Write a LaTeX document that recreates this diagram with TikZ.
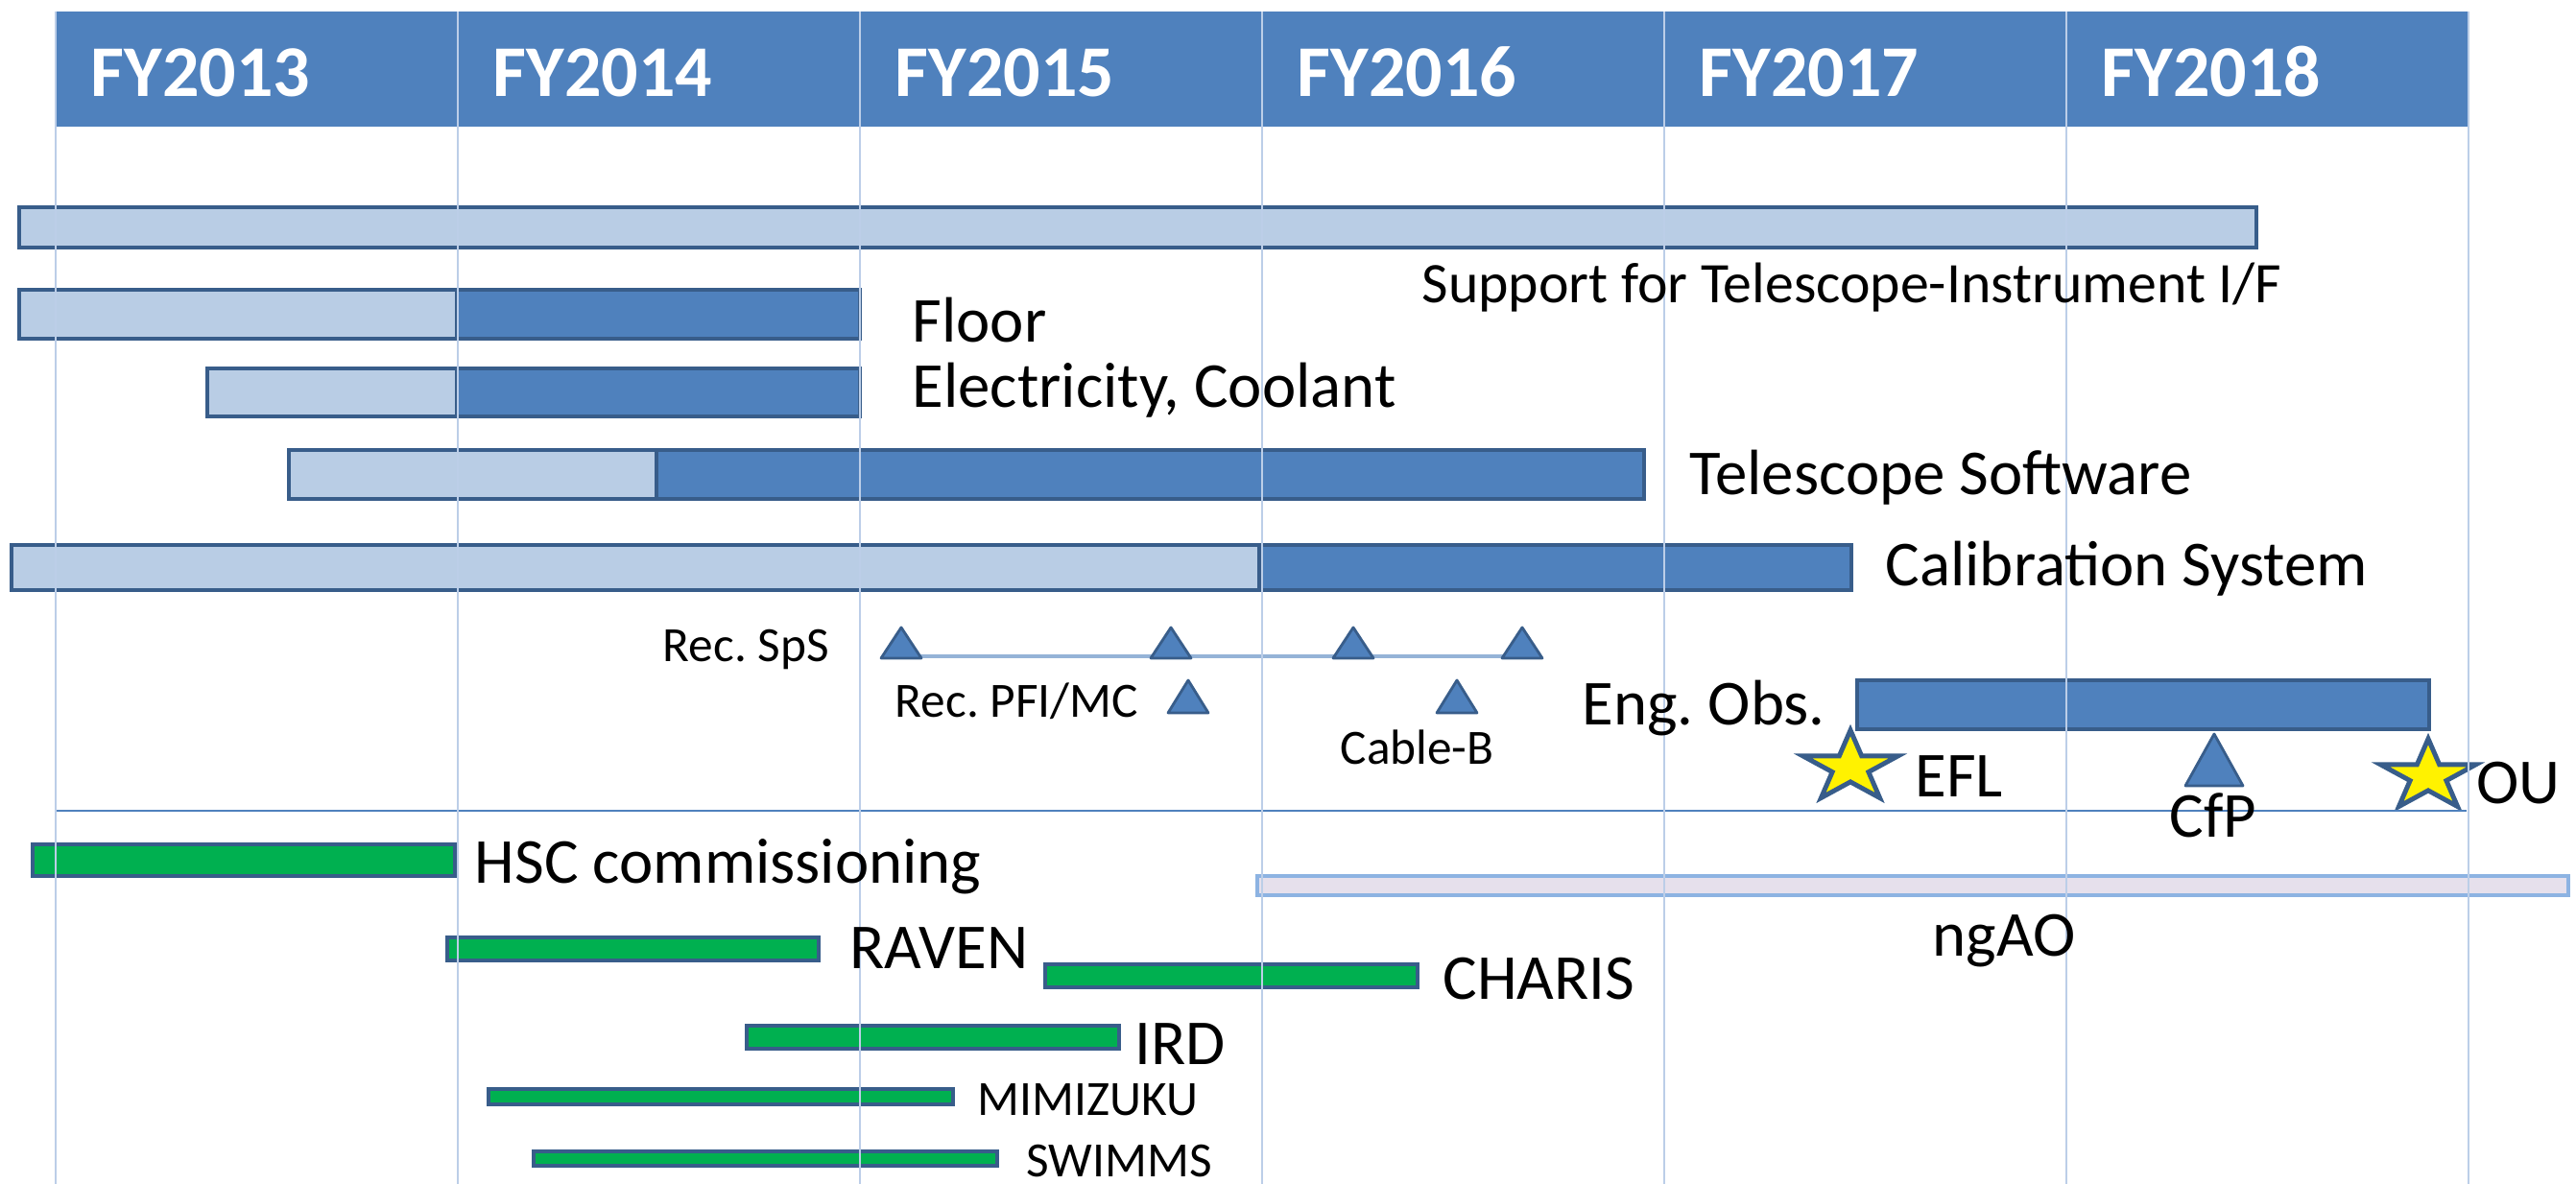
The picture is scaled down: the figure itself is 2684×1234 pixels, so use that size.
\documentclass[tikz,border=0pt]{standalone}
\usepackage{fontspec}
\setmainfont{Carlito}
\frenchspacing
\definecolor{hdrblue}{HTML}{4F81BD}
\definecolor{barlight}{HTML}{B9CDE5}
\definecolor{rim}{HTML}{385D8A}
\definecolor{gridblue}{HTML}{BCCEE8}
\definecolor{msblue}{HTML}{95B3D7}
\definecolor{ngaorim}{HTML}{8DB3E2}
\definecolor{ngaofill}{HTML}{E6E0EC}
\definecolor{instgreen}{HTML}{00B050}
\tikzset{
  lite/.style={fill=barlight, draw=rim, line width=1.4pt},
  dark/.style={fill=hdrblue, draw=rim, line width=1.4pt},
  inst/.style={fill=instgreen, draw=rim, line width=1.2pt},
  tri/.style={fill=hdrblue, draw=rim, line width=0.8pt, line join=round},
  starmk/.style={fill=yellow, draw=rim, line width=1.4pt},
  lbl/.style={anchor=base west, inner sep=0pt, font=\fontsize{19}{22}\selectfont},
  smlbl/.style={lbl, font=\fontsize{14.6}{17}\selectfont},
  hdr/.style={anchor=base west, inner sep=0pt, text=white, font=\bfseries\fontsize{21.6}{25}\selectfont}
}
\newcommand{\mile}[4]{\draw[tri] (#1,#2) -- ++({#3/2},#4) -- ++(-#3,0) -- cycle;}
\newcommand{\starat}[2]{\draw[starmk, shift={(#1,#2)}, xscale=52, yscale=-39]
  (90:1) -- (126:.382) -- (162:1) -- (198:.382) -- (234:1) -- (270:.382)
  -- (306:1) -- (342:.382) -- (18:1) -- (54:.382) -- cycle;}
\begin{document}
\begin{tikzpicture}[x=0.01cm, y=-0.01cm]
  \useasboundingbox[fill=white] (0,0) rectangle (2684,1234);
  % header
  \foreach \yr [count=\i from 0] in {2013,...,2018} {
    \fill[hdrblue] ({58+419*\i},12) rectangle ({477+419*\i},132);
    \node[hdr] (fy\yr) at ({94+419*\i},101) {FY\yr};
  }
  % observatory tasks
  \draw[lite] (20,216) rectangle (2351,258);
  \draw[lite] (20,302) rectangle (476,353);
  \draw[dark] (476,302) rectangle (896,353);
  \draw[lite] (216,384) rectangle (476,434);
  \draw[dark] (476,384) rectangle (896,434);
  \draw[lite] (301,469) rectangle (684,520);
  \draw[dark] (684,469) rectangle (1713,520);
  \draw[lite] (12,568) rectangle (1312,615);
  \draw[dark] (1312,568) rectangle (1929,615);
  \draw[dark] (1935,709) rectangle (2531,760);
  % milestones
  \coordinate (sps) at (939,684);
  \coordinate (spsend) at (1586,684);
  \draw[msblue, line width=0.9pt] (sps) -- (spsend);
  \mile{939}{654}{42}{32}
  \mile{1220}{654}{42}{32}
  \mile{1410}{654}{42}{32}
  \mile{1586}{654}{42}{32}
  \mile{1238}{709}{42}{34}
  \mile{1518}{709}{42}{34}
  \mile{2307}{765}{60}{54}
  \starat{1928}{800}
  \starat{2530}{809}
  \draw[hdrblue, line width=0.6pt] (58,845) -- (2570,845);
  % instruments
  \draw[fill=ngaofill, draw=ngaorim, line width=1.4pt] (1310,913) rectangle (2676,933);
  \draw[inst] (34,880) rectangle (474,913);
  \draw[inst] (466,977) rectangle (853,1001);
  \draw[inst] (1089,1005) rectangle (1477,1029);
  \draw[inst] (778,1069) rectangle (1166,1093);
  \draw[inst] (509,1135) rectangle (993,1151);
  \draw[inst] (556,1200) rectangle (1039,1215);
  % year grid
  \foreach \i in {0,...,6}
    \draw[gridblue, line width=0.55pt] ({58+419*\i},12) -- ({58+419*\i},1234);
  % labels
  \node[lbl, font=\fontsize{17}{20}\selectfont] (support) at (1481,316) {Support for Telescope-Instrument I/F};
  \node[lbl] (floor) at (950,357) {Floor};
  \node[lbl] (elec) at (950,425) {Electricity, Coolant};
  \node[lbl] (telsw) at (1760,516) {Telescope Software};
  \node[lbl] (calib) at (1964,611) {Calibration System};
  \node[smlbl] (recsps) at (690,690) {Rec. SpS};
  \node[smlbl] (recpfi) at (932,748) {Rec. PFI/MC};
  \node[smlbl] (cableb) at (1396,797) {Cable-B};
  \node[lbl] (engobs) at (1648,756) {Eng. Obs.};
  \node[lbl] (efl) at (1995,831) {EFL};
  \node[lbl, anchor=base] (cfp) at (2306,873) {CfP};
  \node[lbl] (ou) at (2580,838) {OU};
  \node[lbl] (hsc) at (494,921) {HSC commissioning};
  \node[lbl] (ngao) at (2013,997) {ngAO};
  \node[lbl] (raven) at (885,1010) {RAVEN};
  \node[lbl] (charis) at (1503,1041) {CHARIS};
  \node[lbl] (ird) at (1182,1109) {IRD};
  \node[smlbl] (mimizuku) at (1018,1162) {MIMIZUKU};
  \node[smlbl] (swimms) at (1069,1226) {SWIMMS};
\end{tikzpicture}
\end{document}
